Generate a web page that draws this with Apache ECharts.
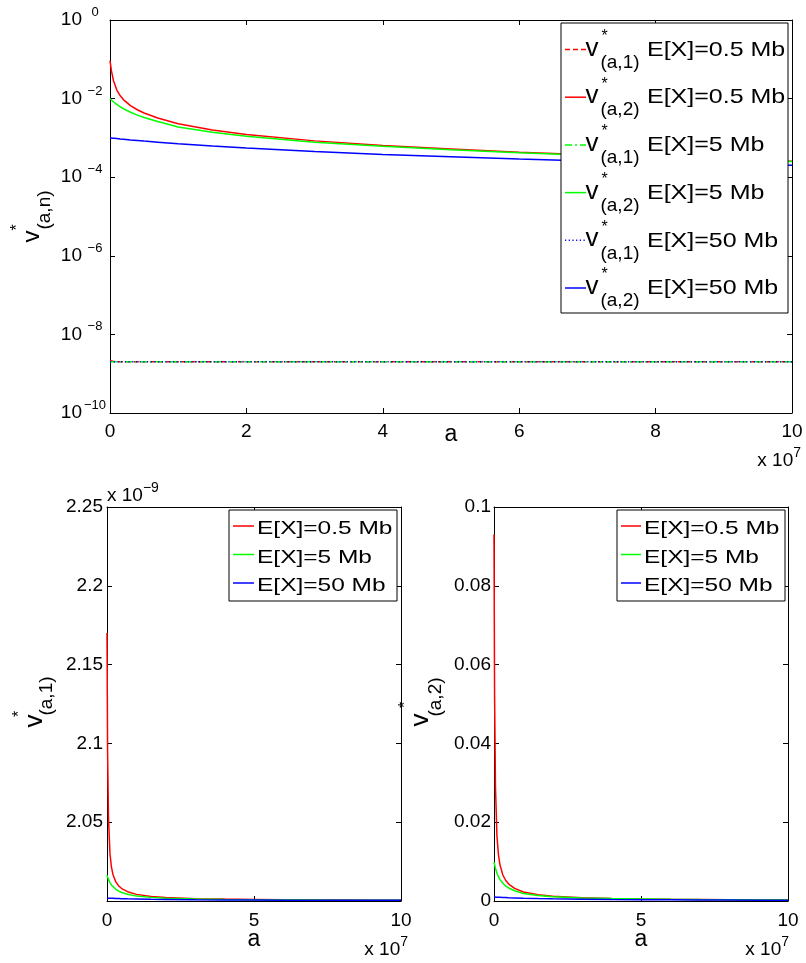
<!DOCTYPE html>
<html>
<head>
<meta charset="utf-8">
<script src="https://cdn.jsdelivr.net/npm/echarts@6/dist/echarts.min.js"></script>
<style>
  html, body { margin: 0; padding: 0; background: #fff; }
  #chart { width: 806px; height: 963px; }
</style>
</head>
<body>
<div id="chart"></div>
<script>
// Sample positions a (shared by every curve)
const aValues = [0, 2e5, 5e5, 1e6, 1.5e6, 2e6, 3e6, 4e6, 5e6, 7e6, 1e7, 1.5e7, 2e7, 3e7, 4e7, 5e7, 6e7, 7e7, 8e7, 9e7, 1e8];

// v*(a,2) for E[X] = 0.5, 5, 50 Mb
const v2Half = [0.093, 0.052, 0.029, 0.0165, 0.0118, 0.0093, 0.0066, 0.0052, 0.0043, 0.0032, 0.0023, 0.00158, 0.00122, 8.4e-4, 6.4e-4, 5.2e-4, 4.3e-4, 3.7e-4, 3.2e-4, 2.85e-4, 2.55e-4];
const v2Five = [0.0099, 0.0092, 0.0083, 0.0071, 0.0062, 0.0055, 0.0045, 0.0038, 0.0033, 0.0026, 0.0019, 0.00139, 0.0011, 7.8e-4, 6.1e-4, 5.0e-4, 4.2e-4, 3.6e-4, 3.15e-4, 2.8e-4, 2.5e-4];
const v2Fifty = [1.0e-3, 9.9e-4, 9.8e-4, 9.6e-4, 9.4e-4, 9.25e-4, 8.9e-4, 8.6e-4, 8.3e-4, 7.8e-4, 7.1e-4, 6.2e-4, 5.5e-4, 4.5e-4, 3.8e-4, 3.3e-4, 2.9e-4, 2.6e-4, 2.35e-4, 2.15e-4, 2.0e-4];

// v*(a,1) for E[X] = 0.5, 5, 50 Mb, in units of 1e-9
const v1Half = [2.17, 2.095, 2.053, 2.0302, 2.0216, 2.017, 2.0121, 2.0095, 2.0079, 2.0059, 2.0042, 2.0029, 2.0022, 2.0015, 2.0012, 2.001, 2.0008, 2.0007, 2.0006, 2.0005, 2.0005];
const v1Five = [2.0163, 2.0152, 2.0137, 2.0117, 2.0102, 2.0091, 2.0074, 2.0063, 2.0054, 2.0043, 2.0031, 2.0023, 2.0018, 2.0013, 2.001, 2.0008, 2.0007, 2.0006, 2.0005, 2.0005, 2.0004];
const v1Fifty = [2.0018, 2.0018, 2.0018, 2.0017, 2.0017, 2.0017, 2.0016, 2.0016, 2.0015, 2.0014, 2.0013, 2.0011, 2.001, 2.0008, 2.0007, 2.0006, 2.0005, 2.0005, 2.0004, 2.0004, 2.0004];
const V1_UNIT = 1e-9;

const caseLabels = ['E[X]=0.5 Mb', 'E[X]=5 Mb', 'E[X]=50 Mb'];
const caseColors = ['#ff0000', '#00ff00', '#0000ff'];
const v1Dash = [[5, 3], [7, 3, 2, 3], [1.2, 2.5]];

// Tick values
const logTicks = [1e-10, 1e-8, 1e-6, 1e-4, 1e-2, 1];

const FONT = '"Liberation Sans", Arial, Helvetica, sans-serif';
const INK = '#000';
const TICK_FONT = 19;

const pairs = (vals, k = 1) => aValues.map((a, i) => [a, vals[i] * k]);
const sup = n => (n < 0 ? '\u2212' + (-n) : String(n));

function axisBase(extra) {
  return Object.assign({
    type: 'value',
    axisLine: { show: true, onZero: false, lineStyle: { color: INK, width: 1 } },
    axisTick: { show: true, inside: true, length: 5, lineStyle: { color: INK, width: 1 } },
    splitLine: { show: false },
    axisLabel: { color: INK, fontFamily: FONT, fontSize: TICK_FONT }
  }, extra);
}
function mirror(extra) {
  const ax = axisBase(extra);
  ax.axisLabel = { show: false };
  return ax;
}
const xLabel = margin => ({ color: INK, fontFamily: FONT, fontSize: TICK_FONT, margin,
  formatter: v => String(Math.round(v / 1e7)) });
const xName = gap => ({ name: 'a', nameLocation: 'middle', nameGap: gap, nameMoveOverlap: false,
  nameTextStyle: { color: INK, fontFamily: FONT, fontSize: 23 } });

const grids = [
  { left: 110, top: 20, width: 682, height: 393 },
  { left: 107, top: 507, width: 294, height: 394 },
  { left: 494, top: 507, width: 294, height: 394 }
];

const xAxes = [
  axisBase(Object.assign({ gridIndex: 0, position: 'bottom', min: 0, max: 1e8, interval: 2e7,
    axisLabel: xLabel(9) }, xName(10))),
  mirror({ gridIndex: 0, position: 'top', min: 0, max: 1e8, interval: 2e7 }),
  axisBase(Object.assign({ gridIndex: 1, position: 'bottom', min: 0, max: 1e8, interval: 5e7,
    axisLabel: xLabel(10) }, xName(27))),
  mirror({ gridIndex: 1, position: 'top', min: 0, max: 1e8, interval: 5e7 }),
  axisBase(Object.assign({ gridIndex: 2, position: 'bottom', min: 0, max: 1e8, interval: 5e7,
    axisLabel: xLabel(10) }, xName(27))),
  mirror({ gridIndex: 2, position: 'top', min: 0, max: 1e8, interval: 5e7 })
];

const logLabelRich = {
  b: { fontFamily: FONT, fontSize: TICK_FONT, lineHeight: 28, color: INK },
  s: { fontFamily: FONT, fontSize: 13, lineHeight: 12, verticalAlign: 'top', width: 26, align: 'left', color: INK }
};

const yAxes = [
  axisBase({ gridIndex: 0, type: 'log', logBase: 10, position: 'left', min: 1e-10, max: 1,
    axisTick: { show: true, inside: true, length: 5, lineStyle: { color: INK }, customValues: logTicks },
    axisLabel: { color: INK, fontFamily: FONT, fontSize: TICK_FONT, margin: 2, customValues: logTicks,
      formatter: v => '{b|10}{s|' + sup(Math.round(Math.log10(v))) + '}', rich: logLabelRich } }),
  mirror({ gridIndex: 0, type: 'log', logBase: 10, position: 'right', min: 1e-10, max: 1,
    axisTick: { show: true, inside: true, length: 5, lineStyle: { color: INK }, customValues: logTicks } }),
  axisBase({ gridIndex: 1, position: 'left', min: 2.0, max: 2.25, interval: 0.05,
    axisLabel: { color: INK, fontFamily: FONT, fontSize: TICK_FONT, margin: 4,
      formatter: v => (Math.abs(v - 2) < 1e-9 ? '' : String(+v.toFixed(2))) } }),
  mirror({ gridIndex: 1, position: 'right', min: 2.0, max: 2.25, interval: 0.05 }),
  axisBase({ gridIndex: 2, position: 'left', min: 0, max: 0.1, interval: 0.02,
    axisLabel: { color: INK, fontFamily: FONT, fontSize: TICK_FONT, margin: 3,
      formatter: v => String(+v.toFixed(2)) } }),
  mirror({ gridIndex: 2, position: 'right', min: 0, max: 0.1, interval: 0.02 })
];

const v1Sets = [v1Half, v1Five, v1Fifty];
const v2Sets = [v2Half, v2Five, v2Fifty];

const series = [];
function line(name, data, xi, yi, color, dash) {
  return {
    name, type: 'line', xAxisIndex: xi, yAxisIndex: yi, data,
    showSymbol: false, symbol: 'none', animation: false, silent: true,
    lineStyle: { color, width: 1.5, type: dash || 'solid' }
  };
}
// Upper panel: both components on a log scale
for (let k = 0; k < 3; k++) {
  series.push(line('v1 ' + caseLabels[k], pairs(v1Sets[k], V1_UNIT), 0, 0, caseColors[k], v1Dash[k]));
  series.push(line('v2 ' + caseLabels[k], pairs(v2Sets[k]), 0, 0, caseColors[k]));
}
// Lower panels: each component on its own linear scale
for (let k = 0; k < 3; k++) {
  series.push(line('v1 lin ' + caseLabels[k], pairs(v1Sets[k]), 2, 2, caseColors[k]));
}
for (let k = 0; k < 3; k++) {
  series.push(line('v2 lin ' + caseLabels[k], pairs(v2Sets[k]), 4, 4, caseColors[k]));
}

// ---- annotations drawn as graphic elements ----
const graphic = [];
const txt = (text, x, y, size, opts = {}) => Object.assign({
  type: 'text', x, y, z: 100,
  style: Object.assign({ text, font: size + 'px ' + FONT, fill: INK, align: 'center', verticalAlign: 'middle' }, opts.style || {})
}, opts.el || {});

// rotated axis titles v*_(a,n)
function yTitle(vx, vy, sx, sy, bx, by, subText, vSize) {
  const rot = Math.PI / 2;
  graphic.push(txt('v', vx, vy, vSize, { el: { rotation: rot } }));
  graphic.push(txt('*', sx, sy, 16, { el: { rotation: rot } }));
  graphic.push(txt(subText, bx, by, 19, { el: { rotation: rot } }));
}
yTitle(32.5, 236.5, 18, 227.5, 45, 210, '(a,n)', 24);
yTitle(35, 721, 20, 714, 47, 696, '(a,1)', 26);
yTitle(421, 720, 406, 705, 436, 697, '(a,2)', 26);

// exponent notes
const expRich = {
  b: { fontFamily: FONT, fontSize: 19, lineHeight: 30, color: INK },
  s: { fontFamily: FONT, fontSize: 14, lineHeight: 12, verticalAlign: 'top', color: INK }
};
function expNote(text, exp, x, y, align) {
  graphic.push({ type: 'text', x, y, z: 100,
    style: { text: '{b|' + text + '}{s|' + exp + '}', rich: expRich, align, verticalAlign: 'middle' } });
}
expNote('x 10', '7', 801, 461, 'right');
expNote('x 10', '7', 408, 950, 'right');
expNote('x 10', '7', 789, 950, 'right');
expNote('x 10', '\u22129', 107, 496, 'left');

// legend boxes
function legendBox(x, y, w, h) {
  graphic.push({ type: 'rect', z: 99, shape: { x, y, width: w, height: h },
    style: { fill: '#fff', stroke: INK, lineWidth: 1 } });
}
function legendLine(x1, x2, y, color, dash) {
  graphic.push({ type: 'line', z: 101, shape: { x1, y1: y, x2, y2: y },
    style: { stroke: color, lineWidth: 1.5, lineDash: dash || null } });
}
function legendText(text, x, y, size, sx) {
  graphic.push({ type: 'text', x, y, z: 101, scaleX: sx,
    style: { text, font: size + 'px ' + FONT, fill: INK, align: 'left', verticalAlign: 'middle' } });
}

// upper legend
legendBox(561, 23, 227, 290);
for (let k = 0; k < 3; k++) {
  for (let n = 1; n <= 2; n++) {
    const row = k * 2 + (n - 1);
    const yc = 49.5 + 47.7 * row;
    legendLine(565, 586, yc, caseColors[k], n === 1 ? v1Dash[k] : null);
    graphic.push(txt('v', 592, yc - 1, 26, { el: { z: 101 } }));
    graphic.push(txt('*', 604.5, yc - 13, 16, { el: { z: 101 } }));
    graphic.push(txt('(a,' + n + ')', 620, yc + 13, 19, { el: { z: 101 } }));
    legendText(caseLabels[k], 647, yc + 0.5, 21, 1.19);
  }
}

// lower legends
[[229, 233, 254, 257], [617, 621, 641, 644]].forEach(([bx, lx1, lx2, tx]) => {
  legendBox(bx, 510, 168, 91);
  for (let k = 0; k < 3; k++) {
    const yc = 529.5 + 28.5 * k;
    legendLine(lx1, lx2, yc - 3.5, caseColors[k]);
    legendText(caseLabels[k], tx, yc, 18, 1.36);
  }
});

const chart = echarts.init(document.getElementById('chart'), null, { renderer: 'canvas' });
chart.setOption({
  animation: false,
  backgroundColor: '#fff',
  grid: grids,
  xAxis: xAxes,
  yAxis: yAxes,
  series,
  graphic
});
</script>
</body>
</html>
